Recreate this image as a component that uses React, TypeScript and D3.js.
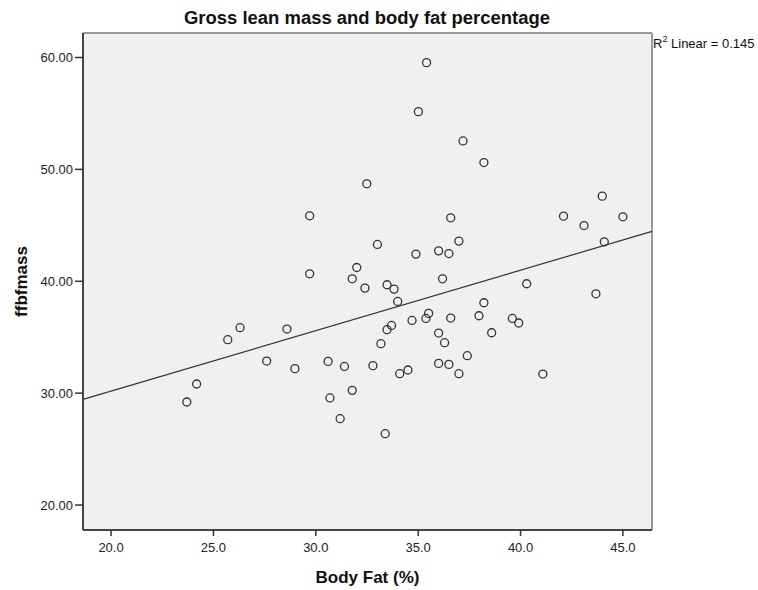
import React from "react";
import { scaleLinear } from "d3";

// values
const bodyFat = [
  23.7, 24.18, 25.7, 26.3, 27.6, 28.59, 28.98, 29.7, 29.7, 30.6, 30.69, 31.19,
  31.4, 31.78, 31.78, 32.0, 32.4, 32.49, 32.79, 33.01, 33.18, 33.39, 33.48,
  33.48, 33.7, 33.82, 34.0, 34.1, 34.5, 34.7, 34.89, 35.01, 35.38, 35.41, 35.51,
  36.0, 36.0, 36.0, 36.19, 36.29, 36.5, 36.5, 36.59, 36.59, 36.99, 36.99, 37.19,
  37.4, 37.97, 38.21, 38.21, 38.59, 39.6, 39.91, 40.3, 41.09, 42.1, 43.1, 43.68,
  43.99, 44.09, 45.0
];
const ffbfmass = [
  29.21, 30.82, 34.78, 35.85, 32.87, 35.73, 32.19, 45.85, 40.67, 32.84, 29.57,
  27.72, 32.39, 40.22, 30.25, 41.23, 39.39, 48.71, 32.46, 43.29, 34.42, 26.38,
  39.69, 35.67, 36.05, 39.3, 38.2, 31.74, 32.07, 36.5, 42.43, 55.16, 36.68,
  59.54, 37.13, 42.72, 35.37, 32.66, 40.22, 34.51, 42.48, 32.57, 45.67, 36.71,
  43.59, 31.74, 52.54, 33.35, 36.92, 50.61, 38.08, 35.4, 36.68, 36.27, 39.78,
  31.71, 45.82, 44.98, 38.88, 47.61, 43.53, 45.76
];
const xTicks = [20, 25, 30, 35, 40, 45];
const yTicks = [20, 30, 40, 50, 60];
const fitSlope = 0.5405;
const fitIntercept = 19.37;
const rSquared = 0.145;

const width = 758;
const height = 590;
const plot = { left: 83, top: 33, right: 652, bottom: 530 };

const App = () => {
  const x = scaleLinear().domain([18.63, 46.42]).range([plot.left, plot.right]);
  const y = scaleLinear().domain([17.77, 62.19]).range([plot.bottom, plot.top]);
  const [x0, x1] = x.domain();
  const font = "'Liberation Sans', Arial, sans-serif";

  return (
    <svg
      width={width}
      height={height}
      style={{ position: "absolute", left: 0, top: 0, background: "#fff" }}
      fontFamily={font}
    >
      <text
        x={367}
        y={24}
        textAnchor="middle"
        fontSize={18}
        fontWeight="bold"
        textLength={366}
        lengthAdjust="spacingAndGlyphs"
        fill="#111"
      >
        Gross lean mass and body fat percentage
      </text>

      <rect
        x={plot.left}
        y={plot.top}
        width={plot.right - plot.left}
        height={plot.bottom - plot.top}
        fill="#f0f0f0"
      />
      <line x1={plot.left} x2={plot.right} y1={plot.top} y2={plot.top} stroke="#999" strokeWidth={2} />
      <line x1={plot.right} x2={plot.right} y1={plot.top} y2={plot.bottom} stroke="#999" strokeWidth={2} />

      <line
        x1={x(x0)}
        y1={y(fitIntercept + fitSlope * x0)}
        x2={x(x1)}
        y2={y(fitIntercept + fitSlope * x1)}
        stroke="#333"
        strokeWidth={1.2}
      />

      {bodyFat.map((d, i) => (
        <circle
          key={i}
          cx={x(d)}
          cy={y(ffbfmass[i])}
          r={4}
          fill="none"
          stroke="#333"
          strokeWidth={1.3}
        />
      ))}

      <line x1={plot.left} x2={plot.left} y1={plot.top} y2={plot.bottom} stroke="#444" strokeWidth={2} />
      <line x1={plot.left} x2={plot.right} y1={plot.bottom} y2={plot.bottom} stroke="#444" strokeWidth={2} />

      {yTicks.map(t => (
        <g key={t} transform={`translate(0,${y(t)})`}>
          <line x1={plot.left - 8} x2={plot.left} stroke="#333" strokeWidth={1.5} />
          <text x={73} dy="0.35em" textAnchor="end" fontSize={13} fill="#222">
            {t.toFixed(2)}
          </text>
        </g>
      ))}

      {xTicks.map(t => (
        <g key={t} transform={`translate(${x(t)},0)`}>
          <line y1={plot.bottom} y2={plot.bottom + 6} stroke="#333" strokeWidth={1.5} />
          <text y={552} textAnchor="middle" fontSize={13} fill="#222">
            {t.toFixed(1)}
          </text>
        </g>
      ))}

      <text
        x={(plot.left + plot.right) / 2}
        y={583}
        textAnchor="middle"
        fontSize={17}
        fontWeight="bold"
        fill="#111"
      >
        Body Fat (%)
      </text>
      <text
        transform={`translate(27,${(plot.top + plot.bottom) / 2}) rotate(-90)`}
        textAnchor="middle"
        fontSize={17}
        fontWeight="bold"
        fill="#111"
      >
        ffbfmass
      </text>

      <text x={653} y={48} fontSize={13} fill="#111">
        R<tspan dy={-6} fontSize={9}>2</tspan>
        <tspan dy={6}> Linear = {rSquared}</tspan>
      </text>
    </svg>
  );
};

export default App;
